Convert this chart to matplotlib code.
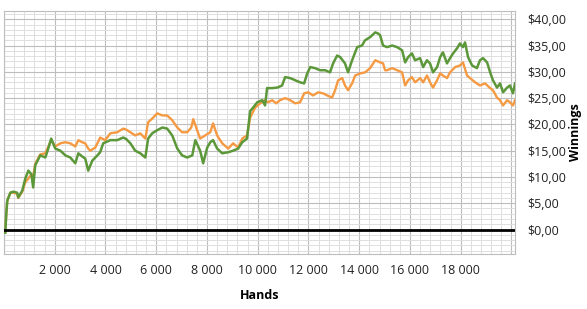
import matplotlib
matplotlib.use("Agg")
import matplotlib.pyplot as plt
from matplotlib.ticker import MultipleLocator, FuncFormatter

# green series (hands, winnings $)
green_hands = [50, 90, 130, 250, 370, 520, 560, 720, 840, 960, 1080, 1150, 1230, 1430,
               1630, 1750, 1860, 2020, 2220, 2420, 2610, 2810, 2930, 3080, 3200, 3320,
               3480, 3680, 3790, 3910, 4190, 4460, 4700, 4820, 4980, 5170, 5370, 5570,
               5680, 5840, 6040, 6240, 6430, 6630, 6830, 7020, 7220, 7420, 7540, 7730,
               7850, 8010, 8130, 8240, 8400, 8600, 8840, 9030, 9230, 9390, 9580, 9700,
               9820, 9980, 10180, 10290, 10370, 10570, 10770, 10960, 11080, 11280, 11480,
               11670, 11830, 11950, 12070, 12260, 12460, 12660, 12850, 12970, 13130,
               13250, 13440, 13560, 13720, 13920, 14110, 14230, 14430, 14630, 14740,
               14820, 14940, 15100, 15300, 15490, 15690, 15810, 15930, 16080, 16200,
               16400, 16520, 16670, 16790, 16910, 17070, 17190, 17300, 17460, 17580,
               17700, 17860, 17970, 18090, 18170, 18290, 18450, 18640, 18760, 18880,
               19040, 19160, 19270, 19430, 19550, 19670, 19830, 19940, 20060, 20140]
green_win = [-0.6, 3.0, 5.5, 7.0, 7.2, 7.0, 6.1, 7.4, 9.7, 11.2, 10.5, 8.0, 12.2, 14.1,
             13.7, 15.5, 17.3, 15.4, 15.0, 14.1, 13.7, 12.6, 14.5, 13.9, 13.5, 11.2,
             13.1, 14.1, 14.7, 16.4, 17.0, 17.0, 17.5, 17.2, 16.4, 15.0, 14.5, 13.7,
             17.3, 18.3, 18.9, 19.4, 19.2, 17.9, 15.4, 14.1, 13.7, 14.1, 17.0, 15.0,
             12.6, 15.6, 16.6, 17.0, 15.4, 14.5, 14.7, 15.0, 15.4, 16.6, 17.3, 22.5,
             23.2, 24.2, 24.6, 23.6, 26.9, 26.9, 27.0, 27.4, 29.0, 28.8, 28.4,
             28.0, 27.8, 29.7, 30.9, 30.7, 30.3, 30.3, 29.9, 31.6, 33.1,
             32.8, 31.6, 29.9, 32.2, 34.7, 35.0, 36.0, 36.6, 37.5, 37.3,
             37.0, 35.0, 34.7, 35.0, 34.7, 34.1, 31.8, 32.8, 33.5, 32.2,
             32.6, 30.9, 32.2, 31.6, 29.9, 30.9, 32.8, 33.7, 31.6, 32.6,
             33.5, 34.5, 35.4, 34.7, 35.6, 32.8, 31.2, 30.7, 32.2, 32.6,
             31.8, 29.9, 28.4, 27.0, 27.8, 26.1, 27.0, 27.4, 25.9, 27.8]

# orange series (hands, winnings $)
orange_hands = [50, 90, 130, 250, 370, 520, 560, 720, 840, 960, 1080, 1150, 1230, 1430,
                1630, 1750, 1860, 2020, 2220, 2420, 2610, 2810, 2930, 3080, 3200, 3320,
                3400, 3600, 3790, 3990, 4190, 4460, 4700, 4820, 4980, 5170, 5370, 5570,
                5680, 5840, 6040, 6240, 6430, 6630, 6830, 7020, 7220, 7380, 7460, 7610,
                7730, 7930, 8130, 8240, 8400, 8600, 8840, 9030, 9230, 9390, 9580, 9700,
                9900, 10100, 10290, 10410, 10570, 10730, 10880, 11080, 11280, 11480,
                11670, 11830, 11990, 12180, 12380, 12580, 12740, 12930, 13050, 13170,
                13330, 13440, 13560, 13720, 13840, 14040, 14230, 14430, 14630, 14820,
                14940, 15020, 15100, 15300, 15490, 15690, 15810, 15930, 16080, 16200,
                16400, 16520, 16670, 16790, 16910, 17070, 17190, 17300, 17460, 17580,
                17780, 17970, 18090, 18250, 18370, 18570, 18760, 18960, 19160, 19270,
                19430, 19550, 19670, 19830, 19940, 20060, 20140]
orange_win = [-0.6, 3.0, 5.5, 7.0, 7.0, 6.8, 6.0, 7.2, 9.0, 9.7, 10.5, 10.0, 12.5, 14.3,
              14.5, 15.8, 17.0, 15.8, 16.4, 16.6, 16.4, 15.8, 17.0, 16.6, 16.4, 15.4,
              15.0, 15.6, 17.5, 17.0, 18.3, 18.5, 19.2, 19.0, 18.5, 17.9, 18.3, 17.3,
              20.4, 21.1, 22.1, 21.7, 21.7, 20.8, 19.4, 18.5, 18.5, 19.4, 21.0, 18.9,
              17.3, 17.9, 18.5, 20.2, 17.9, 16.4, 15.4, 16.4, 15.6, 17.3, 17.9, 21.3,
              23.2, 24.0, 24.6, 24.2, 24.6, 24.0, 24.6, 25.0, 24.6, 24.0,
              24.2, 25.9, 26.1, 25.5, 26.1, 25.9, 25.5, 25.1, 26.5, 28.4,
              28.8, 27.4, 26.5, 27.8, 29.3, 29.7, 29.9, 30.7, 32.2, 31.8,
              31.6, 30.3, 30.3, 30.7, 30.3, 29.9, 27.4, 28.4, 29.0, 28.0,
              28.8, 28.0, 29.3, 28.0, 27.0, 28.4, 29.7, 29.3, 28.8, 29.9,
              30.9, 31.2, 31.8, 29.3, 28.8, 28.0, 27.4, 27.8, 26.9, 26.5,
              25.1, 24.6, 23.6, 24.6, 24.2, 23.6, 24.6]

plt.rcParams['font.family'] = ['Open Sans', 'DejaVu Sans']

fig = plt.figure(figsize=(5.87, 3.09), dpi=100)
ax = fig.add_axes([4 / 587, 55 / 309, 511 / 587, 243 / 309])

ax.plot(orange_hands, orange_win, color="#f59a42", lw=1.7, zorder=3)
ax.plot(green_hands, green_win, color="#5c983a", lw=1.8, zorder=4)
ax.axhline(0, color="black", lw=2, zorder=5)

ax.set_xlim(0, 20140)
ax.set_ylim(-4.66, 41.57)

ax.xaxis.set_major_locator(MultipleLocator(2000))
ax.xaxis.set_minor_locator(MultipleLocator(400))
ax.yaxis.set_major_locator(MultipleLocator(5))
ax.yaxis.set_minor_locator(MultipleLocator(1))
ax.grid(which="major", color="#bdbdbd", lw=0.8)
ax.grid(which="minor", color="#dedede", lw=0.7)
ax.set_axisbelow(True)

ax.xaxis.set_major_formatter(FuncFormatter(
    lambda v, p: "" if v <= 0 or v >= 20000 else f"{int(v):,}".replace(",", " ")))
ax.yaxis.set_major_formatter(FuncFormatter(
    lambda v, p: "" if v < 0 else f"${v:.2f}".replace(".", ",")))

ax.yaxis.tick_right()
ax.yaxis.set_label_position("right")
ax.tick_params(which="both", length=0, labelsize=9, colors="#222222")
ax.tick_params(axis="y", pad=9)
ax.tick_params(axis="x", pad=7)

for s in ax.spines.values():
    s.set_color("#bdbdbd")
    s.set_linewidth(0.8)

ax.set_xlabel("Hands", fontweight="bold", fontsize=9, labelpad=9)
ax.set_ylabel("Winnings", fontweight="bold", fontsize=9, labelpad=2)

fig.savefig("out.png", dpi=100)
